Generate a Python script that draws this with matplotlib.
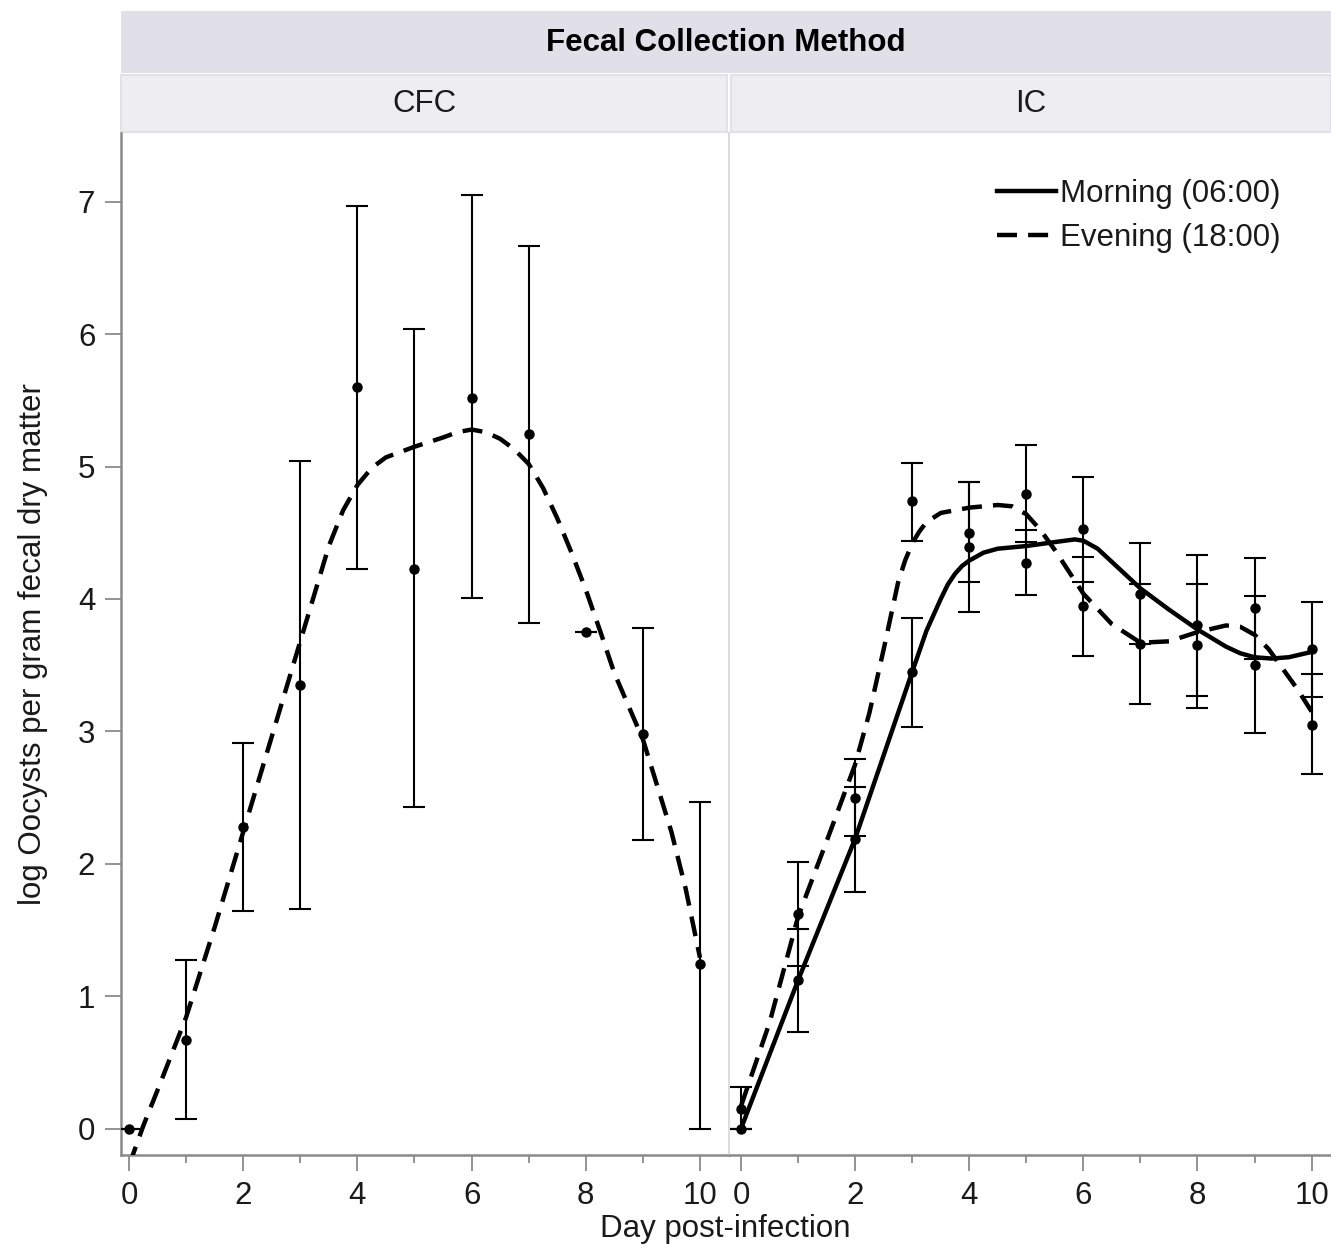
import matplotlib
matplotlib.use("Agg")
import matplotlib.pyplot as plt
from matplotlib.patches import Rectangle
from matplotlib.ticker import MultipleLocator
from matplotlib.lines import Line2D

plt.rcParams['font.family'] = ['Liberation Sans', 'DejaVu Sans']

# ---------------- data ----------------
days = [0, 1, 2, 3, 4, 5, 6, 7, 8, 9, 10]

# CFC panel (single series)
cfc_mean = [0.00, 0.67, 2.28, 3.35, 5.60, 4.23, 5.52, 5.25, 3.75, 2.98, 1.24]
cfc_lo   = [0.00, 0.07, 1.64, 1.66, 4.23, 2.43, 4.01, 3.82, 3.75, 2.18, 0.00]
cfc_hi   = [0.00, 1.27, 2.91, 5.04, 6.97, 6.04, 7.05, 6.67, 3.75, 3.78, 2.47]

# CFC fitted spline
cfc_fit_x = [0, 0.25, 0.5, 1, 1.5, 2, 2.5, 3, 3.25, 3.5, 3.75, 4, 4.25, 4.5, 5, 5.5,
             5.75, 6, 6.25, 6.5, 6.75, 7, 7.25, 7.5, 7.75, 8, 8.25, 8.5, 9, 9.5, 9.75, 10]
cfc_fit_y = [-0.28, 0.02, 0.29, 0.84, 1.52, 2.24, 2.96, 3.68, 4.04, 4.40, 4.67, 4.86,
             4.99, 5.07, 5.15, 5.22, 5.26, 5.28, 5.26, 5.21, 5.13, 5.02, 4.84, 4.61, 4.35,
             4.07, 3.76, 3.44, 2.94, 2.24, 1.81, 1.29]

# IC panel: Morning (06:00)
ic_morning_mean = [0.00, 1.12, 2.19, 3.45, 4.39, 4.27, 4.53, 4.04, 3.80, 3.50, 3.62]
ic_morning_lo   = [0.00, 0.73, 1.79, 3.03, 3.90, 4.03, 4.13, 3.66, 3.27, 2.99, 3.26]
ic_morning_hi   = [0.00, 1.51, 2.58, 3.86, 4.88, 4.52, 4.92, 4.42, 4.33, 4.02, 3.98]

# IC panel: Evening (18:00)
ic_evening_mean = [0.15, 1.62, 2.50, 4.74, 4.50, 4.79, 3.95, 3.66, 3.65, 3.93, 3.05]
ic_evening_lo   = [0.00, 1.23, 2.21, 4.44, 4.13, 4.43, 3.57, 3.21, 3.18, 3.55, 2.68]
ic_evening_hi   = [0.31, 2.01, 2.79, 5.03, 4.88, 5.16, 4.32, 4.11, 4.11, 4.31, 3.43]

# IC fitted splines
ic_morning_fit_x = [0, 1, 2, 2.5, 3, 3.25, 3.5, 3.625, 3.75, 3.875, 4, 4.25, 4.5, 5,
                    5.5, 5.85, 6.0, 6.25, 6.5, 6.75, 7, 7.5, 8, 8.5, 8.75, 9, 9.3, 9.6, 10]
ic_morning_fit_y = [0.00, 1.12, 2.19, 2.82, 3.45, 3.76, 4.00, 4.11, 4.19, 4.25, 4.29,
                    4.35, 4.38, 4.40, 4.43, 4.45, 4.44, 4.38, 4.28, 4.18, 4.08, 3.92,
                    3.77, 3.64, 3.59, 3.56, 3.55, 3.56, 3.60]
ic_evening_fit_x = [0, 0.5, 1, 1.5, 2, 2.25, 2.5, 2.75, 2.875, 3, 3.125, 3.25, 3.5,
                    4, 4.5, 4.75, 5, 5.25, 5.5, 6, 6.5, 7, 7.5, 8, 8.5, 8.75, 9, 9.25,
                    9.5, 9.75, 10]
ic_evening_fit_y = [0.17, 0.80, 1.60, 2.17, 2.75, 3.14, 3.62, 4.12, 4.29, 4.42, 4.51,
                    4.58, 4.65, 4.69, 4.71, 4.70, 4.64, 4.52, 4.37, 4.04, 3.81, 3.67,
                    3.68, 3.75, 3.80, 3.79, 3.73, 3.62, 3.47, 3.32, 3.15]

series_labels = ["Morning (06:00)", "Evening (18:00)"]
panel_titles = ["CFC", "IC"]
header_title = "Fecal Collection Method"
x_label = "Day post-infection"
y_label = "log Oocysts per gram fecal dry matter"

# ---------------- layout ----------------
W, H = 1331, 1245
fig = plt.figure(figsize=(W / 100, H / 100), dpi=100)

def fx(px):
    return px / W

def fy(py):
    return 1 - py / H

ax_top, ax_bot = 133, 1155
xsplit = 729
axL = fig.add_axes([fx(121), fy(ax_bot), fx(xsplit) - fx(121), fy(ax_top) - fy(ax_bot)])
axR = fig.add_axes([fx(xsplit), fy(ax_bot), fx(1331) - fx(xsplit) + 0.002, fy(ax_top) - fy(ax_bot)])

spine_col = '#8a8a8a'
FS = 22.5
DASH = (0, (4.5, 2.5))
LW = 3.2

def err(mean, lo, hi):
    return [[m - l for m, l in zip(mean, lo)], [h - m for m, h in zip(mean, hi)]]

eb_kw = dict(fmt='o', color='black', ms=6.5, elinewidth=1.5, capsize=8, capthick=1.5,
             zorder=3)

# CFC panel
axL.errorbar(days, cfc_mean, yerr=err(cfc_mean, cfc_lo, cfc_hi), **eb_kw)
axL.plot(cfc_fit_x, cfc_fit_y, color='black', lw=LW, linestyle=DASH, zorder=4)

# IC panel
axR.errorbar(days, ic_morning_mean, yerr=err(ic_morning_mean, ic_morning_lo, ic_morning_hi), **eb_kw)
axR.errorbar(days, ic_evening_mean, yerr=err(ic_evening_mean, ic_evening_lo, ic_evening_hi), **eb_kw)
axR.plot(ic_morning_fit_x, ic_morning_fit_y, color='black', lw=LW, linestyle='-', zorder=4,
         solid_capstyle='butt', solid_joinstyle='round')
axR.plot(ic_evening_fit_x, ic_evening_fit_y, color='black', lw=LW, linestyle=DASH, zorder=4)

for ax in (axL, axR):
    ax.set_ylim(-0.2, 7.52)
    ax.xaxis.set_major_locator(MultipleLocator(2))
    ax.xaxis.set_minor_locator(MultipleLocator(1))
    ax.yaxis.set_major_locator(MultipleLocator(1))
    ax.spines['top'].set_visible(False)
    ax.spines['right'].set_visible(False)
    ax.spines['bottom'].set_color(spine_col)
    ax.spines['bottom'].set_linewidth(1.8)
    ax.tick_params(axis='x', which='major', length=11.5, width=1.3, color=spine_col,
                   labelsize=FS, pad=7, labelcolor='#1a1a1a')
    ax.tick_params(axis='x', which='minor', length=6, width=1.3, color=spine_col)
    ax.set_facecolor('white')
    for sp in ax.spines.values():
        sp.set_zorder(1)

axL.set_xlim(-0.14, 10.508)
axR.set_xlim(-0.211, 10.387)

axL.spines['left'].set_color(spine_col)
axL.spines['left'].set_linewidth(1.8)
axL.tick_params(axis='y', length=11.5, width=1.3, color=spine_col, labelsize=FS, pad=7,
                labelcolor='#1a1a1a')

axR.spines['left'].set_color('#dcdcdc')
axR.spines['left'].set_linewidth(1.5)
axR.tick_params(axis='y', left=False, labelleft=False)

# strips
hdr = Rectangle((fx(121), fy(73)), fx(1331) - fx(121), fy(11) - fy(73), transform=fig.transFigure,
                facecolor='#e1e0e8', edgecolor='none', zorder=0)
fig.add_artist(hdr)
for (x0, x1) in [(121, 727), (731, 1331)]:
    r = Rectangle((fx(x0), fy(132)), fx(x1) - fx(x0), fy(75) - fy(132), transform=fig.transFigure,
                  facecolor='#eeeef1', edgecolor='#e2e1e8', linewidth=1.5, zorder=0)
    fig.add_artist(r)

fig.text(fx(726), fy(43), header_title, ha='center', va='center', fontsize=FS,
         fontweight='bold', color='black')
fig.text(fx(424), fy(104), panel_titles[0], ha='center', va='center', fontsize=FS, color='#1a1a1a')
fig.text(fx(1031), fy(104), panel_titles[1], ha='center', va='center', fontsize=FS, color='#1a1a1a')

fig.text(fx(725), fy(1229), x_label, ha='center', va='center', fontsize=FS, color='#1a1a1a')
fig.text(fx(33), fy(644), y_label, ha='center', va='center', fontsize=FS, rotation=90,
         color='#1a1a1a')

# legend
handles = [Line2D([], [], color='black', lw=LW, linestyle='-'),
           Line2D([], [], color='black', lw=LW, linestyle=DASH)]
fig.legend(handles, series_labels, loc='upper left', bbox_to_anchor=(fx(997), fy(179)),
           bbox_transform=fig.transFigure, frameon=False, fontsize=FS, handlelength=1.9,
           handletextpad=0.1, labelspacing=0.45, borderpad=0, borderaxespad=0,
           labelcolor='#1a1a1a')

fig.savefig('out.png', dpi=100, facecolor='white')
